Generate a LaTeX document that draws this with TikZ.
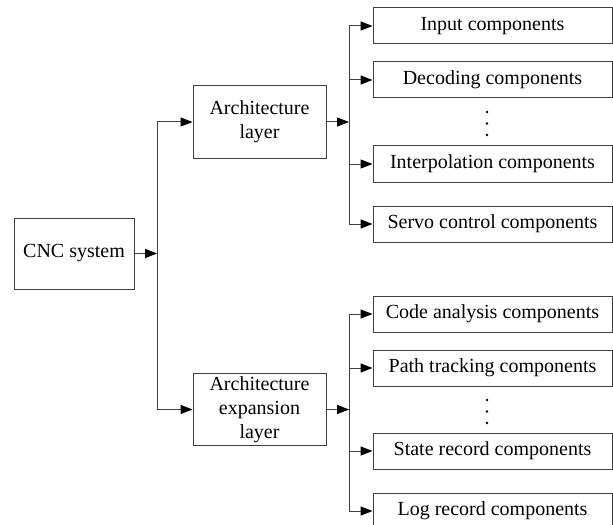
\documentclass[tikz,border=0pt]{standalone}
\usepackage{fontspec}
\setmainfont{Liberation Serif}
\usetikzlibrary{positioning}
\usetikzlibrary{arrows.meta}
\tikzset{>={Triangle[length=9pt,width=6.8pt,color=black]}}
\tikzset{
  block/.style={draw=black!75, line width=0.75pt, align=center, inner sep=0pt},
  layerbox/.style={block, minimum width=99.75pt, minimum height=54.4pt},
  comp/.style={block, minimum width=179.25pt, minimum height=27pt},
  link/.style={draw=black!75, line width=0.75pt}
}

\begin{document}
\begin{tikzpicture}[x=0.75pt, y=-0.75pt, font=\fontsize{15}{18}\selectfont]
        \useasboundingbox (0,0) rectangle (613,524);
        \node[block, minimum width=90pt, minimum height=53.25pt] (cnc) at (74,253.5) {CNC system};
        \node[layerbox] (arch) at (259.5,122) {Architecture\\layer};
        \node[layerbox] (expan) at (259.5,409.5) {Architecture\\expansion\\layer};
        \coordinate (trunk) at (157,253.5);
        \coordinate (archfork) at (349,122);
        \coordinate (expanfork) at (349,409.5);
        \draw[link, ->] (cnc) -- (trunk);
        \draw[link, ->] (trunk) |- (arch);
        \draw[link, ->] (trunk) |- (expan);
        \draw[link, ->] (arch) -- (archfork);
        \draw[link, ->] (expan) -- (expanfork);
        % components of the architecture layer
        \foreach \y/\n/\t in {26/inp/Input components, 80/dec/Decoding components,
            164/itp/Interpolation components, 224/servo/Servo control components} {
            \node[comp] (\n) at (492.5,\y) {\t};
            \draw[link, ->] (archfork) |- (\n);
        }
        % components of the expansion layer
        \foreach \y/\n/\t in {314/code/Code analysis components, 368/path/Path tracking components,
            451/state/State record components, 511/log/Log record components} {
            \node[comp] (\n) at (492.5,\y) {\t};
            \draw[link, ->] (expanfork) |- (\n);
        }
        \foreach \y in {112,123.5,135,400,411.5,423}
            \fill (487,\y) circle (1.4);
    \end{tikzpicture}
\end{document}
